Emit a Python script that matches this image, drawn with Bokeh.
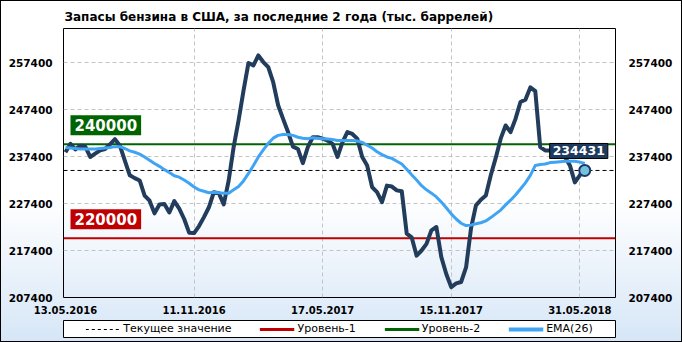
from bokeh.plotting import figure
from bokeh.models import (Range1d, FixedTicker, LinearAxis, Span, Label, Legend,
                          LegendItem, ColumnDataSource, BasicTickFormatter)
from bokeh.layouts import column
from bokeh.embed import file_html
from bokeh.resources import INLINE

# ---------------- data ----------------
title_text = "Запасы бензина  в США, за последние 2 года (тыс. баррелей)"
date_tick_idx = [0, 26, 52, 78, 104]
date_labels = ["13.05.2016", "11.11.2016", "17.05.2017", "15.11.2017", "31.05.2018"]
y_ticks = [207400, 217400, 227400, 237400, 247400, 257400]

stocks = [
    238300, 240100, 238900, 239700, 239500, 237300, 238000, 238700, 239000, 240000,
    241100, 239700, 236500, 233400, 232800, 232300, 229100, 228000, 225300, 227200,
    227300, 225500, 227900, 226300, 224100, 221200, 221100, 222600, 224500, 226600,
    229800, 229600, 227200, 232300, 239400, 245100, 251400, 257300, 256800, 258900,
    257500, 256400, 253200, 248300, 245400, 242600, 239500, 239000, 236000, 239400,
    241500, 241500, 241200, 240800, 240100, 237300, 240400, 242600, 242200, 241200,
    237300, 235500, 230900, 229800, 227700, 231200, 231000, 230200, 230000, 221000,
    220200, 216300, 217400, 218800, 221700, 222400, 216000, 212400, 209600, 210400,
    210700, 213800, 222100, 227000, 228200, 229100, 233400, 237100, 241200, 244000,
    242600, 245400, 249000, 249500, 252100, 251300, 239400, 238700, 238700, 238300,
    238000, 237300, 235500, 231900, 233400, 234431,
]

ema26 = [
    239300, 239200, 239100, 239000, 239000, 239000, 239000, 239100, 239200, 239300,
    239500, 239500, 239100, 238600, 238300, 237900, 237300, 236600, 235900, 235300,
    234600, 234000, 233300, 233000, 232400, 231700, 230900, 230300, 230000, 229700,
    229800, 229700, 229600, 229600, 230300, 231000, 232200, 233800, 235500, 237300,
    238800, 240200, 241300, 241900, 242100, 242100, 241900, 241500, 241300, 241200,
    241400, 241300, 241200, 241100, 241000, 240800, 240800, 240800, 240800, 240700,
    240400, 239800, 239200, 238400, 237800, 237300, 237000, 236400, 235800, 234700,
    233500, 232400, 231200, 230300, 229600, 228800, 227700, 226500, 225200, 224100,
    223200, 222700, 222800, 223100, 223300, 223700, 224400, 225200, 226000, 227100,
    228100, 229200, 230500, 231800, 233400, 235500, 235700, 235800, 236100, 236200,
    236300, 236400, 236400, 236400, 236200, 235900,
]

level_1 = 220000
level_2 = 240000
current_value = 234431
legend_labels = ["Текущее значение", "Уровень-1", "Уровень-2", "EMA(26)"]

# ---------------- styles ----------------
FONT = "DejaVu Sans"
DARK = "#223c5c"
BLUE = "#40a4f4"
GREEN = "#006400"
RED = "#c00000"

idx = list(range(len(stocks)))
src = ColumnDataSource(dict(i=idx, stock=stocks, ema=ema26))
last = ColumnDataSource(dict(i=[idx[-1]], v=[stocks[-1]]))

p = figure(width=682, height=317, output_backend="svg", toolbar_location=None,
           x_range=Range1d(-0.404, 111.22), y_range=Range1d(207400, 264635),
           min_border_left=63, min_border_right=67, min_border_top=28, min_border_bottom=20,
           background_fill_color=None, border_fill_color=None,
           outline_line_color="black", outline_line_width=1, title=title_text)

p.title.text_font = FONT
p.title.text_font_size = "12px"
p.title.text_font_style = "bold"
p.title.text_color = "black"
p.title.align = "left"
p.title.offset = 1
p.title.standoff = 9

# axes
def style_y(ax, standoff):
    ax.ticker = FixedTicker(ticks=y_ticks)
    ax.formatter = BasicTickFormatter(use_scientific=False)
    ax.axis_line_color = None
    ax.major_tick_in = 0
    ax.major_tick_out = 0
    ax.minor_tick_in = 0
    ax.minor_tick_out = 0
    ax.major_label_standoff = standoff
    ax.major_label_text_font = FONT
    ax.major_label_text_font_size = "10.5px"
    ax.major_label_text_font_style = "bold"
    ax.major_label_text_color = "black"

style_y(p.yaxis[0], 11)
right_ax = LinearAxis()
style_y(right_ax, 13)
p.add_layout(right_ax, "right")

xa = p.xaxis[0]
xa.ticker = FixedTicker(ticks=date_tick_idx)
xa.major_label_overrides = {t: l for t, l in zip(date_tick_idx, date_labels)}
xa.axis_line_color = None
xa.major_tick_in = 0
xa.major_tick_out = 0
xa.minor_tick_in = 0
xa.minor_tick_out = 0
xa.major_label_standoff = 8
xa.major_label_text_font = FONT
xa.major_label_text_font_size = "10px"
xa.major_label_text_font_style = "bold"
xa.major_label_text_color = "black"

p.xgrid.ticker = FixedTicker(ticks=date_tick_idx[1:])
p.ygrid.ticker = FixedTicker(ticks=y_ticks)
for g in (p.xgrid[0], p.ygrid[0]):
    g.grid_line_color = "#c4c4c4"
    g.grid_line_dash = "4 3"
    g.grid_line_width = 1

# level lines
p.add_layout(Span(location=current_value, dimension="width", line_color="black",
                  line_width=1, line_dash="4 3", level="underlay"))
p.add_layout(Span(location=level_1, dimension="width", line_color=RED,
                  line_width=2, level="underlay"))
p.add_layout(Span(location=level_2, dimension="width", line_color=GREEN,
                  line_width=2, level="underlay"))

# series
p.line("i", "stock", source=src, line_color=DARK, line_width=4, line_join="round")
p.line("i", "ema", source=src, line_color=BLUE, line_width=3, line_join="round")
p.scatter("i", "v", source=last, size=11, fill_color="#72c2dd",
          line_color="#1d3a66", line_width=2)

# labels
for lvl, col in ((level_2, GREEN), (level_1, RED)):
    p.add_layout(Label(x=0, y=lvl, x_offset=5, y_offset=9, text=str(lvl),
                       text_font=FONT, text_font_size="15px", text_font_style="bold",
                       text_color="white", text_align="left", text_baseline="bottom",
                       background_fill_color=col, padding=4))

p.add_layout(Label(x=idx[-1], y=current_value, x_offset=-6, y_offset=12,
                   text=str(current_value), text_font=FONT, text_font_size="12.5px",
                   text_font_style="bold", text_color="white", text_align="center",
                   text_baseline="bottom", background_fill_color="#1e3a5f",
                   border_line_color="black", border_line_width=1, padding=3))

# ---------------- legend strip ----------------
p2 = figure(width=682, height=25, output_backend="svg", toolbar_location=None,
            x_range=Range1d(0, 1), y_range=Range1d(0, 1),
            x_axis_type=None, y_axis_type=None,
            min_border_left=63, min_border_right=67, min_border_top=3, min_border_bottom=5,
            background_fill_color="white", border_fill_color=None,
            outline_line_color="black", outline_line_width=1)
p2.grid.visible = False

# legend-only renderers, kept outside the visible range of the strip
off = dict(x=[5, 6], y=[5, 6])
r_cur = p2.line(line_color="black", line_width=1, line_dash="3 3", **off)
r_l1 = p2.line(line_color=RED, line_width=3, **off)
r_l2 = p2.line(line_color=GREEN, line_width=3, **off)
r_ema = p2.line(line_color=BLUE, line_width=4, **off)

legend = Legend(items=[LegendItem(label=legend_labels[0], renderers=[r_cur]),
                       LegendItem(label=legend_labels[1], renderers=[r_l1]),
                       LegendItem(label=legend_labels[2], renderers=[r_l2]),
                       LegendItem(label=legend_labels[3], renderers=[r_ema])],
                orientation="horizontal", location="center",
                border_line_alpha=0, background_fill_alpha=0,
                padding=0, margin=0, spacing=28, glyph_width=35, glyph_height=14,
                label_standoff=3, label_height=14,
                label_text_font=FONT, label_text_font_size="11px",
                label_text_color="black")
p2.add_layout(legend, "center")

layout = column(p, p2, spacing=0, styles={
    "background": "linear-gradient(to bottom, #ffffff 0%, #ffffff 58%, #d6e6f7 100%)",
    "outline": "1px solid #000000",
    "outline-offset": "-1px",
})

open("out.html", "w").write(file_html(layout, INLINE))
